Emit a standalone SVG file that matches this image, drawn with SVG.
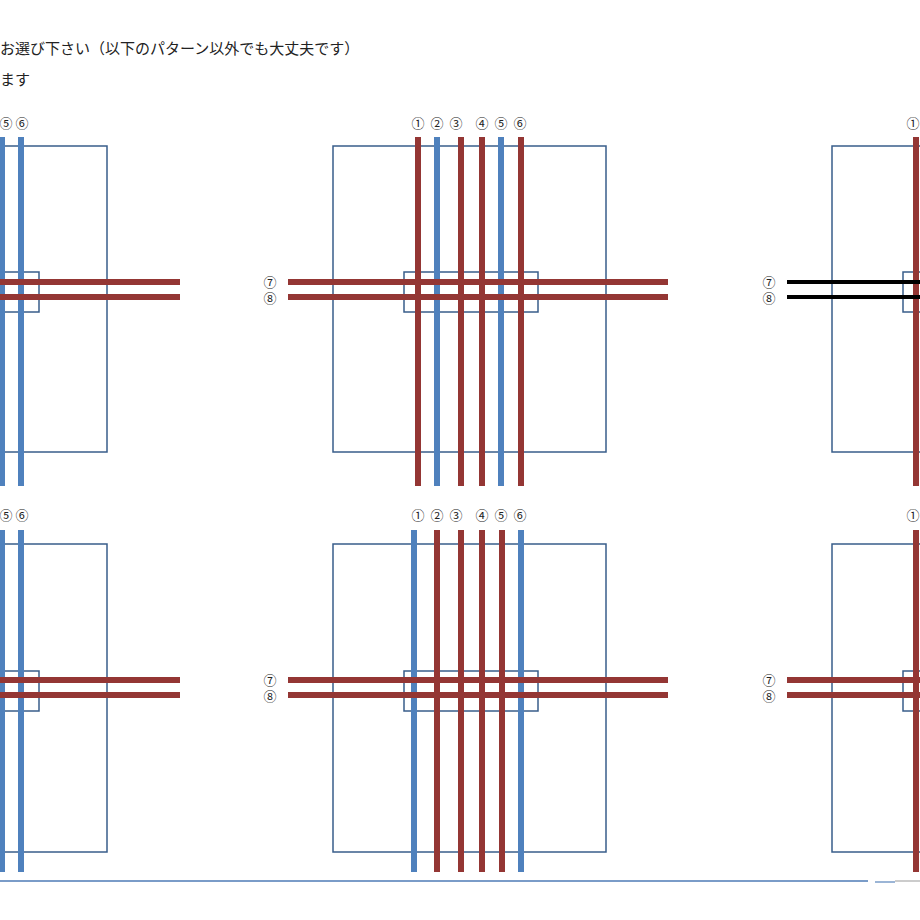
<svg xmlns="http://www.w3.org/2000/svg" width="920" height="920" viewBox="0 0 920 920">
<style>
.r{stroke:#943634;stroke-width:6}
.b{stroke:#4f81bd;stroke-width:6}
.k{stroke:#000;stroke-width:4}
.box{fill:none;stroke:#385d8a;stroke-width:1.5}
.t{font-family:"Noto Sans CJK JP","Liberation Sans",sans-serif;font-size:15px;fill:#222}
.n{font-family:"Noto Sans CJK JP","DejaVu Sans",sans-serif;font-size:13px;fill:#222;text-anchor:middle}
</style>
<rect width="920" height="920" fill="#fff"/>
<text class="t" x="0" y="54">お選び下さい（以下のパターン以外でも大丈夫です）</text>
<text class="t" x="0" y="85">ます</text>
<g id="panel-top-left">
<rect class="box" x="-166" y="146" width="273" height="306"/>
<rect class="box" x="-95" y="272" width="134" height="40"/>
<line class="b" x1="2" y1="137" x2="2" y2="486"/>
<line class="b" x1="21" y1="137" x2="21" y2="486"/>
<line class="r" x1="-211" y1="282" x2="180" y2="282"/>
<line class="r" x1="-211" y1="297" x2="180" y2="297"/>
<text class="n" x="6" y="128">⑤</text><text class="n" x="22" y="128">⑥</text>
</g>
<g id="panel-top-mid">
<rect class="box" x="333" y="146" width="273" height="306"/>
<rect class="box" x="404" y="272" width="134" height="40"/>
<line class="r" x1="418" y1="137" x2="418" y2="486"/>
<line class="b" x1="437" y1="137" x2="437" y2="486"/>
<line class="r" x1="461" y1="137" x2="461" y2="486"/>
<line class="r" x1="482" y1="137" x2="482" y2="486"/>
<line class="b" x1="501" y1="137" x2="501" y2="486"/>
<line class="r" x1="521" y1="137" x2="521" y2="486"/>
<line class="r" x1="288" y1="282" x2="668" y2="282"/>
<line class="r" x1="288" y1="297" x2="668" y2="297"/>
<text class="n" x="418" y="128">①</text><text class="n" x="437" y="128">②</text><text class="n" x="456" y="128">③</text><text class="n" x="482" y="128">④</text><text class="n" x="501" y="128">⑤</text><text class="n" x="520" y="128">⑥</text>
<text class="n" x="270" y="287">⑦</text><text class="n" x="270" y="303">⑧</text>
</g>
<g id="panel-top-right">
<rect class="box" x="832" y="146" width="273" height="306"/>
<rect class="box" x="903" y="272" width="134" height="40"/>
<line class="r" x1="916" y1="137" x2="916" y2="486"/>
<line class="k" x1="787" y1="282" x2="920" y2="282"/>
<line class="k" x1="787" y1="297" x2="920" y2="297"/>
<text class="n" x="913" y="128">①</text>
<text class="n" x="769" y="287">⑦</text><text class="n" x="769" y="303">⑧</text>
</g>
<g id="panel-bot-left">
<rect class="box" x="-166" y="544" width="273" height="308"/>
<rect class="box" x="-95" y="671" width="134" height="40"/>
<line class="b" x1="2" y1="530" x2="2" y2="872"/>
<line class="b" x1="21" y1="530" x2="21" y2="872"/>
<line class="r" x1="-211" y1="680" x2="180" y2="680"/>
<line class="r" x1="-211" y1="695" x2="180" y2="695"/>
<text class="n" x="6" y="520">⑤</text><text class="n" x="22" y="520">⑥</text>
</g>
<g id="panel-bot-mid">
<rect class="box" x="333" y="544" width="273" height="308"/>
<rect class="box" x="404" y="671" width="134" height="40"/>
<line class="b" x1="414" y1="530" x2="414" y2="872"/>
<line class="r" x1="437" y1="530" x2="437" y2="872"/>
<line class="r" x1="461" y1="530" x2="461" y2="872"/>
<line class="r" x1="482" y1="530" x2="482" y2="872"/>
<line class="r" x1="502" y1="530" x2="502" y2="872"/>
<line class="b" x1="521" y1="530" x2="521" y2="872"/>
<line class="r" x1="288" y1="680" x2="668" y2="680"/>
<line class="r" x1="288" y1="695" x2="668" y2="695"/>
<text class="n" x="418" y="520">①</text><text class="n" x="437" y="520">②</text><text class="n" x="456" y="520">③</text><text class="n" x="482" y="520">④</text><text class="n" x="501" y="520">⑤</text><text class="n" x="520" y="520">⑥</text>
<text class="n" x="270" y="685">⑦</text><text class="n" x="270" y="701">⑧</text>
</g>
<g id="panel-bot-right">
<rect class="box" x="832" y="544" width="273" height="308"/>
<rect class="box" x="903" y="671" width="134" height="40"/>
<line class="r" x1="916" y1="530" x2="916" y2="872"/>
<line class="r" x1="787" y1="680" x2="920" y2="680"/>
<line class="r" x1="787" y1="695" x2="920" y2="695"/>
<text class="n" x="913" y="520">①</text>
<text class="n" x="769" y="685">⑦</text><text class="n" x="769" y="701">⑧</text>
</g>
<g id="connectors">
<line x1="0" y1="881" x2="868" y2="881" stroke="#7a9cc8" stroke-width="2"/>
<line x1="875" y1="882" x2="895" y2="882" stroke="#7a9cc8" stroke-width="1.5"/>
<line x1="895" y1="881" x2="920" y2="881" stroke="#bbb" stroke-width="1.5"/>
</g>
</svg>
